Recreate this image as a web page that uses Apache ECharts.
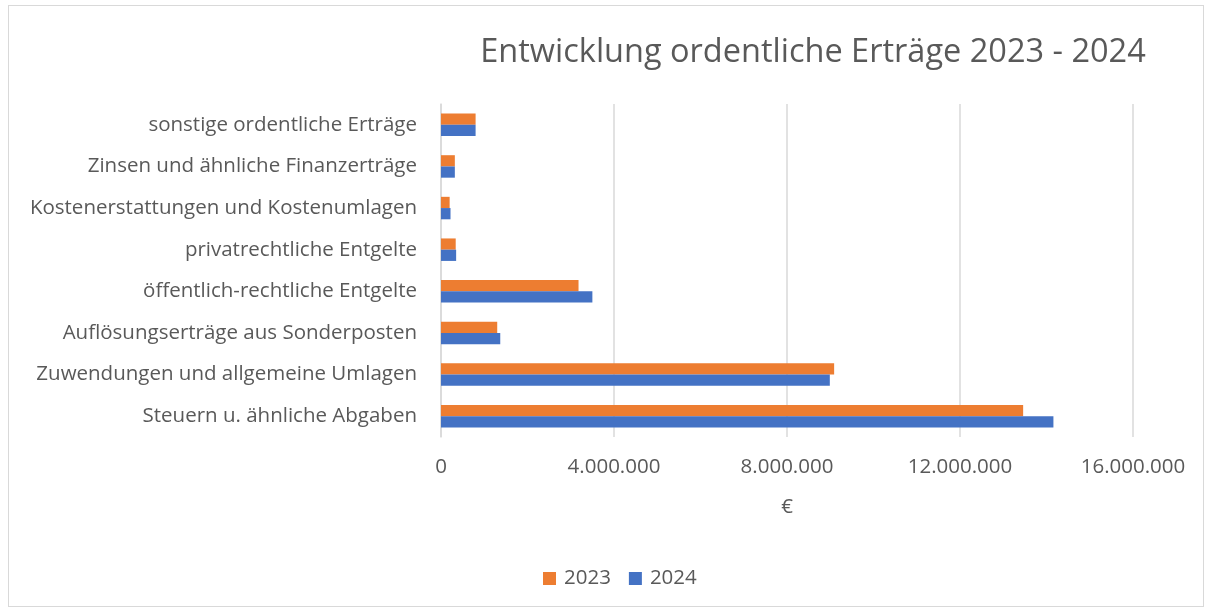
<!DOCTYPE html>
<html>
<head>
<meta charset="utf-8">
<script src="https://cdn.jsdelivr.net/npm/echarts@6/dist/echarts.min.js"></script>
<style>
  html, body { margin: 0; padding: 0; background: #fff; }
  #frame { position: absolute; left: 8px; top: 5px; width: 1196px; height: 602px; border: 1px solid #d9d9d9; box-sizing: border-box; }
  #chart-container { position: absolute; left: 0; top: 0; width: 1213px; height: 612px; }
</style>
</head>
<body>
<div id="frame"></div>
<div id="chart-container"></div>
<script>
// categories from bottom to top
var categories = [
  'Steuern u. ähnliche Abgaben',
  'Zuwendungen und allgemeine Umlagen',
  'Auflösungserträge aus Sonderposten',
  'öffentlich-rechtliche Entgelte',
  'privatrechtliche Entgelte',
  'Kostenerstattungen und Kostenumlagen',
  'Zinsen und ähnliche Finanzerträge',
  'sonstige ordentliche Erträge'
];
var values2023 = [13460000, 9090000, 1300000, 3180000, 340000, 200000, 320000, 800000];
var values2024 = [14160000, 8990000, 1370000, 3500000, 350000, 220000, 320000, 800000];
var xTicks = [0, 4000000, 8000000, 12000000, 16000000];

var dom = document.getElementById('chart-container');
var myChart = echarts.init(dom, null, { renderer: 'canvas' });

function fmt(v) {
  return String(v).replace(/\B(?=(\d{3})+(?!\d))/g, '.');
}

var font = '"Open Sans", "Noto Sans", sans-serif';
var textColor = '#595959';

var option = {
  animation: false,
  title: {
    text: 'Entwicklung ordentliche Erträge 2023 - 2024',
    left: 808,
    textAlign: 'center',
    top: 31,
    textStyle: { fontFamily: font, fontSize: 32.5, fontWeight: 'normal', color: textColor }
  },
  legend: {
    data: ['2023', '2024'],
    left: 538,
    top: 563,
    itemWidth: 13,
    itemHeight: 13,
    itemGap: 18,
    icon: 'rect',
    textStyle: { fontFamily: font, fontSize: 20.5, color: textColor, padding: [0, 0, 0, 3] }
  },
  grid: { left: 441, right: 80, top: 104, bottom: 175 },
  xAxis: {
    type: 'value',
    min: xTicks[0],
    max: xTicks[xTicks.length - 1],
    interval: 4000000,
    name: '€',
    nameLocation: 'middle',
    nameGap: 60,
    nameTextStyle: { fontFamily: font, fontSize: 20.5, color: textColor },
    axisLabel: { fontFamily: font, fontSize: 20.5, color: textColor, margin: 20, formatter: fmt },
    axisLine: { show: false },
    axisTick: { show: false },
    splitLine: { lineStyle: { color: '#d9d9d9', width: 1.5 } }
  },
  yAxis: {
    type: 'category',
    data: categories,
    axisLabel: { fontFamily: font, fontSize: 20.5, color: textColor, margin: 24 },
    axisLine: { lineStyle: { color: '#d9d9d9', width: 1.5 } },
    axisTick: { show: false }
  },
  series: [
    {
      name: '2023',
      type: 'bar',
      data: values2023,
      barCategoryGap: '46%',
      barGap: '0%',
      itemStyle: { color: '#ed7d31' }
    },
    {
      name: '2024',
      type: 'bar',
      data: values2024,
      barCategoryGap: '46%',
      barGap: '0%',
      itemStyle: { color: '#4472c4' }
    }
  ]
};

myChart.setOption(option);
window.addEventListener('resize', myChart.resize);
</script>
</body>
</html>
